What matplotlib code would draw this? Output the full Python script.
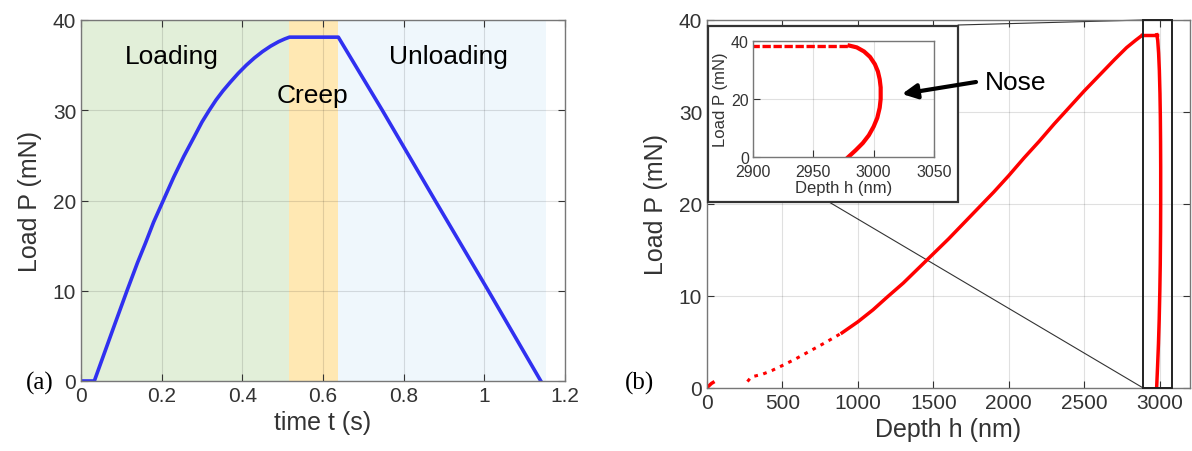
import matplotlib
matplotlib.use("Agg")
import matplotlib.pyplot as plt
from matplotlib.patches import Rectangle, ConnectionPatch

plt.rcParams["font.family"] = ["Liberation Sans", "DejaVu Sans"]

# ---- panel (a): load vs time ----
time_s = [0.0, 0.033, 0.058, 0.083, 0.114, 0.14, 0.16, 0.18, 0.204, 0.23,
          0.255, 0.28, 0.30, 0.318, 0.335, 0.352, 0.37, 0.39, 0.41, 0.43,
          0.45, 0.47, 0.49, 0.505, 0.517, 0.638, 0.747, 0.878, 1.01, 1.140]
load_t = [0.0, 0.0, 3.1, 6.2, 10.0, 13.1, 15.3, 17.6, 20.0, 22.6,
          24.9, 27.0, 28.7, 30.0, 31.15, 32.15, 33.1, 34.1, 35.0, 35.8,
          36.5, 37.1, 37.6, 37.9, 38.1, 38.1, 30.0, 20.0, 10.0, 0.0]
phase_names = ["Loading", "Creep", "Unloading"]
phase_edges = [0.0, 0.515, 0.638, 1.153]
phase_colors = ["#e2efd9", "#ffe8b3", "#eff7fc"]
phase_text_xy = [(0.226, 36.0), (0.575, 31.7), (0.91, 36.0)]

# ---- panel (b): load vs depth ----
depth_start = [0, 10, 20, 30, 40]
load_start = [0.0, 0.2, 0.35, 0.5, 0.6]
depth_sparse = [268, 293, 368, 430, 494, 580, 669, 780, 895]
load_sparse = [0.7, 1.2, 1.5, 1.9, 2.4, 3.1, 3.9, 4.9, 6.0]
depth_load = [895, 1000, 1100, 1195, 1300, 1400, 1500, 1600, 1700, 1800,
              1900, 2000, 2100, 2200, 2300, 2400, 2500, 2600, 2700, 2780,
              2840, 2880]
load_load = [6.0, 7.2, 8.5, 9.9, 11.4, 13.0, 14.6, 16.2, 17.9, 19.6,
             21.3, 23.1, 25.0, 26.8, 28.7, 30.5, 32.3, 34.0, 35.7, 37.0,
             37.8, 38.3]
depth_creep = [2880, 2920, 2960, 2980]
load_creep = [38.4, 38.4, 38.4, 38.4]
depth_unload = [2980, 2986, 2992, 2997, 3001, 3003.5, 3005, 3005.8, 3005.8,
                3005, 3003, 3000, 2996, 2991, 2985, 2979]
load_unload = [38.4, 37.8, 36.4, 34.5, 32.0, 29.5, 26.8, 24.0, 20.0,
               17.0, 13.5, 10.5, 7.5, 4.8, 2.3, 0.0]
zoom_box = (2890, 3080)

axis_col = "#333333"


def style_axes(ax, size):
    ax.tick_params(direction="in", top=True, right=True, labelsize=size,
                   colors=axis_col, length=5, width=0.8)
    for s in ax.spines.values():
        s.set_color("#777777")
        s.set_linewidth(1.0)
    ax.grid(True, color="#000000", alpha=0.12, lw=0.8)


fig = plt.figure(figsize=(11.92, 4.52), dpi=100)

# ---------- (a) ----------
axa = fig.add_axes([81 / 1192, 70 / 452, 484 / 1192, 361 / 452])
for i, name in enumerate(phase_names):
    axa.axvspan(phase_edges[i], phase_edges[i + 1], color=phase_colors[i],
                lw=0, zorder=0)
    axa.text(*phase_text_xy[i], name, fontsize=19, ha="center", va="center")
axa.plot(time_s, load_t, color="#3030f0", lw=2.6)
axa.set_xlim(0, 1.2)
axa.set_ylim(0, 40)
axa.set_xticks([0, 0.2, 0.4, 0.6, 0.8, 1.0, 1.2])
axa.set_xticklabels(["0", "0.2", "0.4", "0.6", "0.8", "1", "1.2"])
axa.set_yticks([0, 10, 20, 30, 40])
style_axes(axa, 15)
axa.set_xlabel("time t (s)", fontsize=18, color=axis_col, labelpad=4)
axa.set_ylabel("Load P (mN)", fontsize=18, color=axis_col, labelpad=8)
fig.text(40 / 1192, 1 - 383 / 452, "(a)", family="Liberation Serif",
         fontsize=18, ha="center", va="center")

# ---------- (b) ----------
axb = fig.add_axes([707 / 1192, 63 / 452, 483 / 1192, 368 / 452])
red = "#ff0000"
axb.plot(depth_start, load_start, color=red, lw=2.5)
axb.plot(depth_sparse, load_sparse, color=red, lw=2.2, ls=(0, (1.2, 1.8)))
axb.plot(depth_load, load_load, color=red, lw=2.5)
axb.plot(depth_creep, load_creep, color=red, lw=2.5)
axb.plot(depth_unload, load_unload, color=red, lw=2.5)
axb.set_xlim(0, 3200)
axb.set_ylim(0, 40)
axb.set_xticks([0, 500, 1000, 1500, 2000, 2500, 3000])
axb.set_yticks([0, 10, 20, 30, 40])
style_axes(axb, 15)
axb.set_xlabel("Depth h (nm)", fontsize=18, color=axis_col, labelpad=4)
axb.set_ylabel("Load P (mN)", fontsize=18, color=axis_col, labelpad=8)
axb.add_patch(Rectangle((zoom_box[0], 0), zoom_box[1] - zoom_box[0], 40,
                        fill=False, ec="#222222", lw=1.4, clip_on=False,
                        zorder=5))
fig.text(640 / 1192, 1 - 383 / 452, "(b)", family="Liberation Serif",
         fontsize=18, ha="center", va="center")

# inset frame (white box behind the inset axes)
box = Rectangle((708 / 1192, 1 - 203 / 452), 250 / 1192, 176 / 452,
                transform=fig.transFigure, fc="white", ec="#333333",
                lw=1.6, zorder=1)
fig.add_artist(box)

axi = fig.add_axes([753 / 1192, 1 - 158 / 452, 181 / 1192, 116 / 452],
                   zorder=5)
axi.plot(depth_creep, load_creep, color=red, lw=2.4, ls=(0, (2.5, 0.8)))
axi.plot(depth_unload, load_unload, color=red, lw=3.0)
axi.set_xlim(2900, 3050)
axi.set_ylim(0, 40)
axi.set_xticks([2900, 2950, 3000, 3050])
axi.set_yticks([0, 20, 40])
style_axes(axi, 11.5)
axi.tick_params(top=False, right=False)
axi.tick_params(axis="x", pad=5)
axi.tick_params(axis="y", pad=3)
axi.set_xlabel("Depth h (nm)", fontsize=12, color=axis_col, labelpad=1)
axi.set_ylabel("Load P (mN)", fontsize=12, color=axis_col, labelpad=2)

# connector lines between zoom box and inset
con1 = ConnectionPatch(xyA=(958 / 1192, 1 - 26 / 452), coordsA=fig.transFigure,
                       xyB=(zoom_box[0], 40), coordsB=axb.transData,
                       color="#333333", lw=0.8)
axb.add_artist(con1)
con2 = ConnectionPatch(xyA=(2900, 0), coordsA=axi.transData,
                       xyB=(zoom_box[0], 0), coordsB=axb.transData,
                       color="#333333", lw=0.8)
axb.add_artist(con2)

# Nose arrow
fig.add_artist(plt.Annotation(
    "", xy=(902, 452 - 95), xycoords="figure pixels",
    xytext=(976, 452 - 83), textcoords="figure pixels",
    arrowprops=dict(arrowstyle="-|>", color="black", lw=3,
                    mutation_scale=22, shrinkA=0, shrinkB=0),
    zorder=10))
fig.text(1016 / 1192, 1 - 83 / 452, "Nose", fontsize=19, ha="center",
         va="center", zorder=10)

fig.savefig("out.png", dpi=100)
